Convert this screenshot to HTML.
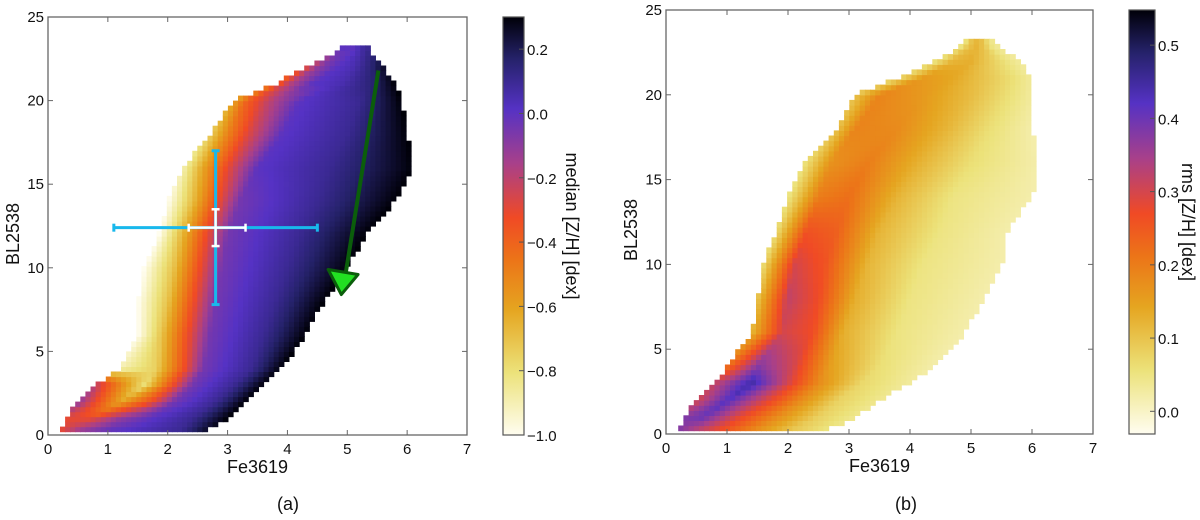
<!DOCTYPE html>
<html><head><meta charset="utf-8"><style>
html,body{margin:0;padding:0;background:#fff;width:1200px;height:520px;overflow:hidden}
svg text{font-family:"Liberation Sans",sans-serif;fill:#111}
</style></head><body>
<svg id="fig" width="1200" height="520" xmlns="http://www.w3.org/2000/svg">
<defs>
<linearGradient id="cmap" x1="0" y1="1" x2="0" y2="0">
<stop offset="0" stop-color="#fffdf0"/><stop offset="0.15" stop-color="#ece27a"/><stop offset="0.3" stop-color="#e5a520"/>
<stop offset="0.42" stop-color="#ec7418"/><stop offset="0.52" stop-color="#f04a25"/><stop offset="0.65" stop-color="#a8408a"/>
<stop offset="0.78" stop-color="#5532c4"/><stop offset="0.9" stop-color="#25226a"/><stop offset="1" stop-color="#000008"/>
</linearGradient>
</defs>
</svg>
<script>
// ---- data: panel (a) median [Z/H]; each key row: BL2538 level, anchor Fe3619 positions, values at anchors
const rowsY_A = [0.2, 1, 2, 3, 4, 6, 8, 10, 12, 14, 16, 18, 20, 21, 22, 23];
const rowsX_A = [
 [0.2,0.5,1.0,1.6,2.2,2.6],[0.3,0.7,1.2,1.7,2.4,3.0],[0.5,1.2,1.7,2.1,2.8,3.3],[0.8,1.6,2.0,2.4,3.1,3.6],
 [1.2,1.8,2.2,2.6,3.4,3.9],[1.5,1.9,2.3,2.7,3.6,4.3],[1.5,2.0,2.4,2.8,3.8,4.6],[1.6,2.1,2.5,2.9,4.0,5.0],
 [1.85,2.2,2.6,3.0,4.2,5.3],[2.0,2.4,2.8,3.2,4.5,5.8],[2.25,2.6,3.0,3.5,4.7,6.1],[2.7,3.0,3.3,3.9,5.0,6.0],
 [3.1,3.3,3.7,4.2,5.2,5.9],[3.8,4.0,4.4,4.9,5.4,5.8],[4.3,4.5,4.8,5.1,5.4,5.6],[4.9,5.0,5.1,5.2,5.3,5.35]];
const rowsV_A = [
 [-0.3,-0.1,0,0.05,0.1,0.25],[-0.3,-0.3,-0.1,0,0.1,0.3],[-0.1,-0.6,-0.35,-0.05,0.1,0.3],[-0.2,-0.8,-0.4,-0.05,0.1,0.3],
 [-0.9,-0.75,-0.4,-0.05,0.1,0.3],[-1,-0.7,-0.35,-0.05,0.1,0.3],[-1,-0.7,-0.35,-0.05,0.1,0.3],[-1,-0.7,-0.35,-0.05,0.1,0.3],
 [-1,-0.7,-0.35,-0.05,0.1,0.3],[-1,-0.7,-0.35,-0.05,0.1,0.3],[-0.9,-0.6,-0.3,0,0.1,0.3],[-0.75,-0.5,-0.3,0,0.1,0.3],
 [-0.6,-0.4,-0.2,0,0.1,0.3],[-0.4,-0.2,0,0.05,0.15,0.3],[-0.3,-0.1,0,0.05,0.15,0.25],[0,0,0,0.05,0.1,0.1]];
// ---- data: panel (b) rms [Z/H]
const rowsY_B = [0.2, 1, 2, 3, 4, 6, 8, 10, 12, 14, 16, 18, 20, 21, 22, 23];
const rowsX_B = [
 [0.2,0.5,1.0,1.5,2.0,2.6],[0.3,0.6,1.2,1.8,2.5,3.1],[0.5,1.0,1.6,2.2,2.8,3.5],[0.8,1.4,2.0,2.5,3.2,4.0],
 [1.0,1.5,2.1,2.7,3.5,4.4],[1.4,1.9,2.4,2.9,3.8,4.9],[1.5,2.0,2.5,3.1,4.0,5.2],[1.6,2.1,2.6,3.3,4.2,5.5],
 [1.8,2.3,2.8,3.5,4.5,5.6],[2.0,2.5,3.0,3.8,4.7,6.0],[2.25,2.7,3.3,4.2,5.0,6.1],[2.8,3.1,3.8,4.6,5.3,6.0],
 [3.1,3.5,4.2,5.0,5.6,6.0],[3.8,4.2,4.7,5.2,5.7,6.0],[4.4,4.7,5.0,5.3,5.6,5.8],[4.9,5.0,5.1,5.2,5.3,5.4]];
const rowsV_B = [
 [0.38,0.32,0.25,0.17,0.1,0.05],[0.38,0.4,0.28,0.18,0.08,0.04],[0.3,0.42,0.3,0.18,0.08,0.04],[0.32,0.45,0.3,0.18,0.07,0.03],
 [0.22,0.38,0.3,0.15,0.06,0.02],[0.12,0.3,0.27,0.13,0.05,0.02],[0.1,0.32,0.27,0.13,0.05,0.02],[0.07,0.3,0.26,0.12,0.05,0.02],
 [0.06,0.26,0.24,0.12,0.05,0.02],[0.05,0.2,0.22,0.12,0.05,0.02],[0.05,0.17,0.2,0.12,0.06,0.02],[0.1,0.19,0.18,0.12,0.06,0.02],
 [0.1,0.19,0.16,0.11,0.06,0.03],[0.07,0.16,0.14,0.1,0.06,0.03],[0.05,0.12,0.13,0.09,0.05,0.03],[0.05,0.1,0.12,0.1,0.05,0.03]];
const xTicks = [0,1,2,3,4,5,6,7];
const yTicks = [0,5,10,15,20,25];
const cbTicksA = [-1.0,-0.8,-0.6,-0.4,-0.2,0.0,0.2];
const cbTicksB = [0.0,0.1,0.2,0.3,0.4,0.5];

const NS="http://www.w3.org/2000/svg", svg=document.getElementById('fig');
function mk(tag,attrs,parent){const e=document.createElementNS(NS,tag);for(const k in attrs)e.setAttribute(k,attrs[k]);(parent||svg).appendChild(e);return e;}
const stops=[[0,[255,253,240]],[0.15,[236,226,122]],[0.3,[229,165,32]],[0.42,[236,116,24]],[0.52,[240,74,37]],[0.65,[168,64,138]],[0.78,[85,50,196]],[0.9,[37,34,106]],[1,[0,0,8]]];
function cmap(t){t=Math.max(0,Math.min(1,t));for(let i=1;i<stops.length;i++){if(t<=stops[i][0]){const a=stops[i-1],b=stops[i],f=(t-a[0])/(b[0]-a[0]);const c=a[1].map((v,j)=>Math.round(v+(b[1][j]-v)*f));return `rgb(${c[0]},${c[1]},${c[2]})`;}}return 'rgb(0,0,8)';}
function lerp(a,b,f){return a+(b-a)*f;}
function rowAt(rY,rX,rV,y){
  if(y<rY[0]||y>rY[rY.length-1]+0.3)return null;
  let i=0;while(i<rY.length-2&&y>rY[i+1])i++;
  const f=Math.max(0,Math.min(1,(y-rY[i])/(rY[i+1]-rY[i])));
  return {x:rX[i].map((v,k)=>lerp(v,rX[i+1][k],f)),v:rV[i].map((v,k)=>lerp(v,rV[i+1][k],f))};
}
function valAt(r,x){
  if(x<r.x[0]||x>r.x[5])return null;
  for(let k=1;k<6;k++){if(x<=r.x[k]){const f=(x-r.x[k-1])/Math.max(1e-6,r.x[k]-r.x[k-1]);return lerp(r.v[k-1],r.v[k],f);}}
  return r.v[5];
}
function panel(P){
  const sx=v=>P.x0+(P.x1-P.x0)*v/7, sy=v=>P.y0-(P.y0-P.y1)*v/25;
  const g=mk('g',{});
  
  
  const dx=0.085,dy=0.3;
  for(let y=0.2;y<23.2;y+=dy){
    const r=rowAt(P.rY,P.rX,P.rV,y+dy/2); if(!r)continue;
    for(let x=0.2;x<6.3;x+=dx){
      const v=valAt(r,x+dx/2); if(v===null)continue;
      mk('rect',{x:sx(x).toFixed(1),y:sy(y+dy).toFixed(1),width:(sx(dx)-sx(0)+0.6).toFixed(1),height:(sy(0)-sy(dy)+0.6).toFixed(1),fill:cmap((v-P.vmin)/(P.vmax-P.vmin))},g);
    }
  }
  const ax=mk('rect',{x:P.x0,y:P.y1,width:P.x1-P.x0,height:P.y0-P.y1,fill:'none',stroke:'#666','stroke-width':1.3});
  
  
  xTicks.forEach(t=>{const X=sx(t);
    mk('line',{x1:X,x2:X,y1:P.y0,y2:P.y0-5,stroke:'#666'});mk('line',{x1:X,x2:X,y1:P.y1,y2:P.y1+5,stroke:'#666'});
    const tx=mk('text',{x:X,y:P.y0+19,'font-size':15,'text-anchor':'middle'});tx.textContent=t;
    });
  yTicks.forEach(t=>{const Y=sy(t);
    mk('line',{x1:P.x0,x2:P.x0+5,y1:Y,y2:Y,stroke:'#666'});mk('line',{x1:P.x1,x2:P.x1-5,y1:Y,y2:Y,stroke:'#666'});
    const tx=mk('text',{x:P.x0-4,y:Y+5,'font-size':15,'text-anchor':'end'});tx.textContent=t;
    });
  const xl=mk('text',{x:(P.x0+P.x1)/2,y:P.y0+38,'font-size':18,'text-anchor':'middle'});xl.textContent='Fe3619';
  
  const yl=mk('text',{x:0,y:0,'font-size':18,'text-anchor':'middle',transform:`translate(${P.x0-29},${(P.y0+P.y1)/2+8}) rotate(-90)`});yl.textContent='BL2538';
  
  const cb=mk('rect',{x:P.cx0,y:P.y1,width:P.cx1-P.cx0,height:P.y0-P.y1,fill:'url(#cmap)',stroke:'#555','stroke-width':1.2});
  
  const cy=v=>P.y0-(P.y0-P.y1)*(v-P.vmin)/(P.vmax-P.vmin);
  P.cbT.forEach(t=>{const Y=cy(t);
    mk('line',{x1:P.cx1,x2:P.cx1-5,y1:Y,y2:Y,stroke:'#555'});
    const tx=mk('text',{x:P.cx1+3,y:Y+6,'font-size':15});tx.textContent=(t<0?'\u2212':'')+Math.abs(t).toFixed(1);
    });
  const cl=mk('text',{x:0,y:0,'font-size':18,'text-anchor':'middle',transform:`translate(${P.cx1+P.lblOff},${(P.y0+P.y1)/2}) rotate(90)`});cl.textContent=P.cbLabel;
  
  const sub=mk('text',{x:P.subX,y:510,'font-size':18,'text-anchor':'middle','font-family':'Liberation Serif'});sub.textContent=P.sub;
  
  return {sx,sy};
}
const A=panel({name:'panel-a',x0:48,x1:467,y0:435,y1:17,cx0:503,cx1:524,vmin:-1.0,vmax:0.3,rY:rowsY_A,rX:rowsX_A,rV:rowsV_A,cbT:cbTicksA,cbLabel:'median [Z/H] [dex]',sub:'(a)',subX:288,lblOff:42});
panel({name:'panel-b',x0:666,x1:1093,y0:434,y1:10,cx0:1129,cx1:1155,vmin:-0.031,vmax:0.548,rY:rowsY_B,rX:rowsX_B,rV:rowsV_B,cbT:cbTicksB,cbLabel:'rms [Z/H] [dex]',sub:'(b)',subX:906,lblOff:27});

const ov=mk('g',{});


function bar(x1,y1,x2,y2,col,w,cap,horiz){
  mk('line',{x1:A.sx(x1),y1:A.sy(y1),x2:A.sx(x2),y2:A.sy(y2),stroke:col,'stroke-width':w},ov);
  [[x1,y1],[x2,y2]].forEach(p=>{const X=A.sx(p[0]),Y=A.sy(p[1]);
    if(horiz)mk('line',{x1:X,x2:X,y1:Y-cap,y2:Y+cap,stroke:col,'stroke-width':w},ov);
    else mk('line',{x1:X-cap,x2:X+cap,y1:Y,y2:Y,stroke:col,'stroke-width':w},ov);});
}
bar(1.1,12.4,4.5,12.4,'#18b8ec',3,4,true);
bar(2.8,7.8,2.8,17.0,'#18b8ec',3,4,false);
bar(2.35,12.4,3.3,12.4,'#ffffff',2.5,4,true);
bar(2.8,11.3,2.8,13.5,'#ffffff',2.5,4,false);
const arr=mk('g',{});


mk('line',{x1:A.sx(5.52),y1:A.sy(21.8),x2:A.sx(4.97),y2:A.sy(9.6),stroke:'#0b5e0b','stroke-width':4},arr);
mk('polygon',{points:`${A.sx(4.68)},${A.sy(9.9)} ${A.sx(5.18)},${A.sy(9.6)} ${A.sx(4.9)},${A.sy(8.4)}`,fill:'#22e022',stroke:'#0b5e0b','stroke-width':3,'stroke-linejoin':'round'},arr);
</script>
</body></html>
